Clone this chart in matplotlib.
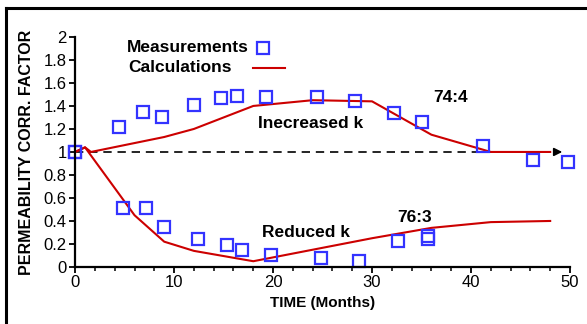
import matplotlib.pyplot as plt
import numpy as np
from matplotlib.ticker import MultipleLocator, FuncFormatter
from matplotlib.lines import Line2D

plt.rcParams['font.family'] = ['Liberation Sans', 'DejaVu Sans']

# measured points (months, factor)
meas_inc_t = [0, 4.4, 6.9, 8.8, 12.0, 14.7, 16.4, 19.3, 24.4, 28.3, 32.2, 35.0, 41.2, 46.3, 49.8]
meas_inc_k = [1.0, 1.22, 1.35, 1.30, 1.41, 1.47, 1.49, 1.48, 1.48, 1.44, 1.34, 1.26, 1.05, 0.93, 0.91]
meas_red_t = [0, 4.8, 7.2, 9.0, 12.4, 15.3, 16.9, 19.8, 24.8, 28.7, 32.6, 35.7, 35.7]
meas_red_k = [1.0, 0.51, 0.51, 0.35, 0.24, 0.19, 0.15, 0.10, 0.08, 0.05, 0.23, 0.27, 0.24]

# calculated curves
calc_inc_t = [0, 1, 1.6, 9, 12, 18, 24, 30, 36, 42, 48]
calc_inc_k = [1.0, 1.04, 1.0, 1.13, 1.20, 1.40, 1.45, 1.44, 1.15, 1.0, 1.0]
calc_red_t = [0, 1, 6, 9, 12, 18, 24, 30, 36, 42, 48]
calc_red_k = [1.0, 1.04, 0.45, 0.22, 0.14, 0.05, 0.15, 0.25, 0.34, 0.39, 0.40]

red = '#cc0000'
blue = '#3333ff'

fig = plt.figure(figsize=(5.87, 3.24), dpi=100)
ax = fig.add_axes([0.128, 0.176, 0.843, 0.71])

# dashed reference line with arrow
ax.plot([0, 48.4], [1, 1], color='black', lw=1.2, dashes=(5, 3.5))
ax.annotate('', xy=(49.5, 1), xytext=(48.2, 1),
            arrowprops=dict(arrowstyle='-|>', color='black', lw=1.2,
                            mutation_scale=12))

ax.plot(calc_inc_t, calc_inc_k, color=red, lw=1.5)
ax.plot(calc_red_t, calc_red_k, color=red, lw=1.5)

ax.plot(meas_inc_t, meas_inc_k, 's', ms=8.5, mfc='none', mec=blue, mew=1.6, clip_on=False)
ax.plot(meas_red_t, meas_red_k, 's', ms=8.5, mfc='none', mec=blue, mew=1.6, clip_on=False)

ax.set_xlim(0, 50)
ax.set_ylim(0, 2)
ax.xaxis.set_major_locator(MultipleLocator(10))
ax.xaxis.set_minor_locator(MultipleLocator(2))
ax.yaxis.set_major_locator(MultipleLocator(0.2))
ax.yaxis.set_major_formatter(FuncFormatter(lambda v, p: '%g' % round(v, 1)))

for s in ['top', 'right']:
    ax.spines[s].set_visible(False)
for s in ['left', 'bottom']:
    ax.spines[s].set_linewidth(1.6)
ax.tick_params(which='major', direction='out', length=4, width=1.3, labelsize=12, pad=2)
ax.tick_params(which='minor', direction='out', length=3, width=1.1)

ax.set_xlabel('TIME (Months)', fontsize=11, fontweight='bold', labelpad=4)
ax.set_ylabel('PERMEABILITY CORR. FACTOR', fontsize=11.5, fontweight='bold', labelpad=7)

ax.text(18.5, 1.25, 'Inecreased k', fontsize=12.5, fontweight='bold', va='center')
ax.text(36.2, 1.47, '74:4', fontsize=12.5, fontweight='bold', va='center')
ax.text(18.9, 0.30, 'Reduced k', fontsize=12.5, fontweight='bold', va='center')
ax.text(32.5, 0.43, '76:3', fontsize=12.5, fontweight='bold', va='center')

# legend drawn by hand (labels left aligned, symbols after text)
ax.text(0.105, 0.955, 'Measurements', transform=ax.transAxes, fontsize=12.5,
        fontweight='bold', va='center')
ax.text(0.107, 0.868, 'Calculations', transform=ax.transAxes, fontsize=12.5,
        fontweight='bold', va='center')
ax.plot([0.380], [0.952], 's', ms=8.5, mfc='none', mec=blue, mew=1.6,
        transform=ax.transAxes, clip_on=False)
ax.plot([0.360, 0.424], [0.865, 0.865], color=red, lw=1.5,
        transform=ax.transAxes, clip_on=False)

# outer frame (top and left edges visible)
fig.add_artist(Line2D([5.5 / 587, 1], [1 - 8 / 324, 1 - 8 / 324], color='black', lw=2.2,
                      transform=fig.transFigure))
fig.add_artist(Line2D([5.5 / 587, 5.5 / 587], [0, 1 - 8 / 324], color='black', lw=2.2,
                      transform=fig.transFigure))

fig.savefig('out.png', dpi=100)
